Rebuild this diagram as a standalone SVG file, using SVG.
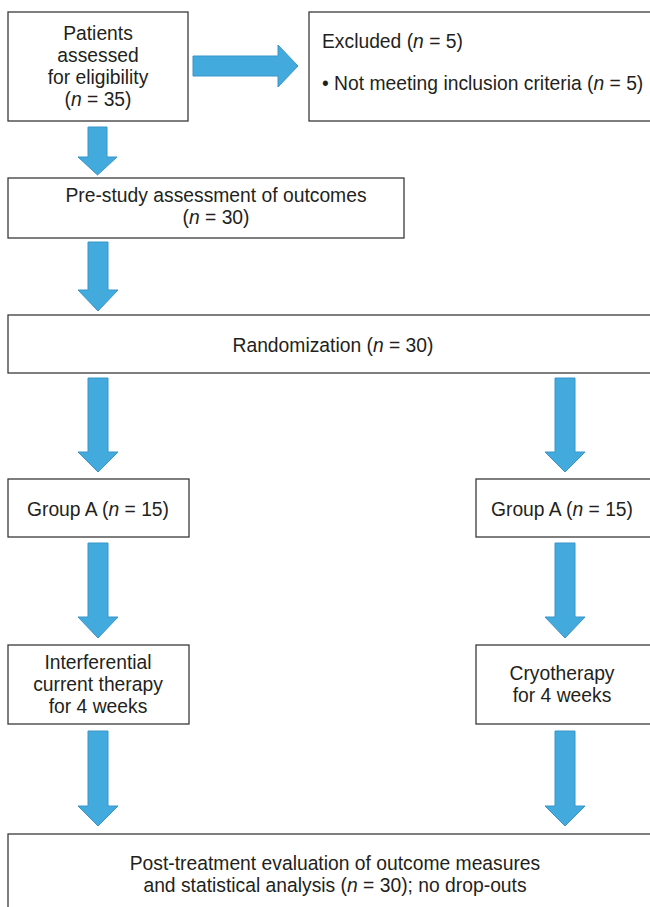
<svg xmlns="http://www.w3.org/2000/svg" width="650" height="907" viewBox="0 0 650 907">
<style>
.box{fill:#fff;stroke:#3a3a3a;stroke-width:1.3}
.t{font-family:"Liberation Sans",Arial,Helvetica,sans-serif;font-size:19.3px;fill:#231f20}
.c{text-anchor:middle}
.arr{fill:#42aadc;stroke:#3a94c8;stroke-width:1}
.i{font-style:italic}
</style>
<rect width="650" height="907" fill="#fff"/>
<g id="connectors">
<path class="arr" d="M193,56 H278 V45 L298,66 L278,87 V76 H193 Z"/>
<path class="arr" d="M88,127 H107 V157 H117 L97.5,175 L78,157 H88 Z"/>
<path class="arr" d="M88,242 H108 V290 H118 L98,311 L78,290 H88 Z"/>
<path class="arr" d="M88,378 H108 V452 H118 L98,472 L78,452 H88 Z"/>
<path class="arr" d="M555,378 H575 V452 H585 L565,472 L545,452 H555 Z"/>
<path class="arr" d="M88,543 H108 V617 H118 L98,638 L78,617 H88 Z"/>
<path class="arr" d="M555,543 H575 V617 H585 L565,638 L545,617 H555 Z"/>
<path class="arr" d="M88,731 H108 V806 H118 L98,826 L78,806 H88 Z"/>
<path class="arr" d="M555,731 H575 V806 H585 L565,826 L545,806 H555 Z"/>
</g>
<g id="eligibility">
<rect class="box" x="8" y="12" width="180" height="109"/>
<text class="t c" x="98" y="40">Patients</text>
<text class="t c" x="98" y="62">assessed</text>
<text class="t c" x="98" y="84">for eligibility</text>
<text class="t c" x="98" y="106">(<tspan class="i">n</tspan> = 35)</text>
</g>
<g id="excluded">
<rect class="box" x="309" y="12" width="360" height="109"/>
<text class="t" x="322" y="48">Excluded (<tspan class="i">n</tspan> = 5)</text>
<text class="t" x="322" y="90">• Not meeting inclusion criteria (<tspan class="i">n</tspan> = 5)</text>
</g>
<g id="prestudy">
<rect class="box" x="8" y="178" width="396" height="60"/>
<text class="t c" x="216" y="202">Pre-study assessment of outcomes</text>
<text class="t c" x="216" y="224">(<tspan class="i">n</tspan> = 30)</text>
</g>
<g id="randomization">
<rect class="box" x="8" y="315" width="660" height="58"/>
<text class="t c" x="333" y="352">Randomization (<tspan class="i">n</tspan> = 30)</text>
</g>
<g id="groupA-left">
<rect class="box" x="8" y="479" width="181" height="58"/>
<text class="t c" x="98" y="516">Group A (<tspan class="i">n</tspan> = 15)</text>
</g>
<g id="groupA-right">
<rect class="box" x="476" y="479" width="190" height="58"/>
<text class="t c" x="562" y="516">Group A (<tspan class="i">n</tspan> = 15)</text>
</g>
<g id="interferential">
<rect class="box" x="8" y="645" width="181" height="79"/>
<text class="t c" x="98" y="669">Interferential</text>
<text class="t c" x="98" y="691">current therapy</text>
<text class="t c" x="98" y="713">for 4 weeks</text>
</g>
<g id="cryotherapy">
<rect class="box" x="476" y="645" width="190" height="79"/>
<text class="t c" x="562" y="680">Cryotherapy</text>
<text class="t c" x="562" y="702">for 4 weeks</text>
</g>
<g id="post">
<rect class="box" x="8" y="834" width="660" height="90"/>
<text class="t c" x="335" y="870">Post-treatment evaluation of outcome measures</text>
<text class="t c" x="335" y="892">and statistical analysis (<tspan class="i">n</tspan> = 30); no drop-outs</text>
</g>
</svg>
